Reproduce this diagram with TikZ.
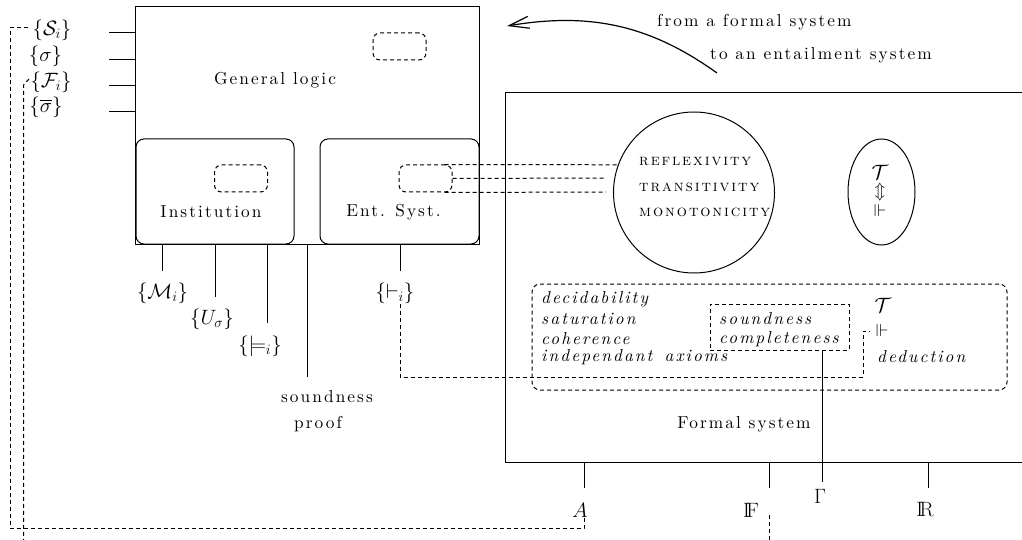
\documentclass[tikz,border=0pt]{standalone}
\usepackage{amsmath,amssymb}
\usepackage{fontspec}
\usetikzlibrary{arrows.meta,shapes.geometric,calc}
% letter-spaced Latin Modern for the running text
\newfontfamily\spaced{lmroman10}[Extension=.otf, UprightFont=*-regular,
  ItalicFont=*-italic, SmallCapsFont=lmromancaps10-regular, LetterSpace=12]
\newcommand{\bbF}{\mathrm{I\!F}}
\newcommand{\bbR}{\mathrm{I\!R}}
\begin{document}
\begin{tikzpicture}[x=1pt,y=-1pt,
  ln/.style={line width=1pt},
  dsh/.style={line width=1pt, dash pattern=on 4pt off 3pt},
  txt/.style={font=\LARGE\spaced, inner sep=0pt},
  itx/.style={font=\LARGE\spaced\itshape, inner sep=0pt, anchor=west},
  scx/.style={font=\fontsize{16}{19}\spaced\scshape, inner sep=0pt, anchor=west},
  mth/.style={font=\huge, inner sep=0pt},
  sym/.style={font=\LARGE, inner sep=0pt},
  box/.style={draw, ln, inner sep=0pt},
  pill/.style={draw, dsh, rounded corners=7pt, minimum width=53pt, minimum height=27pt, inner sep=0pt}]
\useasboundingbox (0,0) rectangle (1022,540);

% ---- general logic and its two parts
\node[box, minimum width=344pt, minimum height=237pt] (gl) at (307,125.5) {};
\node[box, rounded corners=8pt, minimum width=158pt, minimum height=105pt] (inst) at (215,191.5) {};
\node[box, rounded corners=8pt, minimum width=159pt, minimum height=105pt] (ent) at (399.5,191.5) {};
\node[pill] (gld) at (399.5,46.5) {};
\node[pill] (insd) at (241,178.5) {};
\node[pill] (entd) at (425.5,178.5) {};
\node[txt] (gll) at (275,80) {General logic};
\node[txt] (insl) at (211,212) {Institution};
\node[txt] (entl) at (393.5,212) {Ent. Syst.};

% ---- signature labels on the left
\node[mth] (Si) at (52,30) {$\{\mathcal{S}_i\}$};
\node[mth] (sg) at (45.5,56) {$\{\sigma\}$};
\node[mth] (Fi) at (51,82) {$\{\mathcal{F}_i\}$};
\node[mth] (sgb) at (46,107) {$\{\overline{\sigma}\}$};
\foreach \y/\n in {33/a,60/b,86/c,112/d}{
  \coordinate (l\n) at (109,\y);
  \draw[ln] (l\n) -- (gl.west |- l\n);
}

% ---- labels below general logic
\node[mth] (Mi) at (162.5,293) {$\{\mathcal{M}_i\}$};
\node[mth] (Us) at (212,319) {$\{U_\sigma\}$};
\node[mth] (mo) at (260,346) {$\{\models_i\}$};
\node[mth] (vi) at (395,293) {$\{\vdash_i\}$};
\node[txt] (sdn) at (327,397) {soundness};
\node[txt] (prf) at (318,424) {proof};
\coordinate (t1) at (162,271);
\coordinate (t2) at (215,297);
\coordinate (t3) at (267,323);
\coordinate (t4) at (307,377);
\coordinate (t5) at (400,271);
\foreach \t in {t1,t2,t3,t4,t5}{ \draw[ln] (gl.south -| \t) -- (\t); }

% ---- curved arrow and its caption
\coordinate (as) at (717,73);
\coordinate (ae) at (507,26);
\draw[line width=1.2pt, -{Straight Barb[length=20pt,width=12pt]}] (as) .. controls (650,25) and (590,12) .. (ae);
\node[txt, anchor=west] (cap1) at (657,22) {from a formal system};
\node[txt, anchor=west] (cap2) at (710,55) {to an entailment system};

% ---- formal system (open on the right)
\coordinate (fTL) at (505,93);
\coordinate (fBL) at (505,462);
\coordinate (fTR) at (1022,93);
\coordinate (fBR) at (1022,462);
\draw[ln] (fTR) -- (fTL) -- (fBL) -- (fBR);
\node[txt] (fsl) at (744,424) {Formal system};

\node[draw, ln, circle, minimum size=161pt, inner sep=0pt] (circ) at (694,192.5) {};
\node[scx] (rfl) at (639,162) {reflexivity};
\node[scx] (trn) at (639,187) {transitivity};
\node[scx] (mon) at (639,212) {monotonicity};

\node[draw, ln, ellipse, minimum width=67pt, minimum height=106pt, inner sep=0pt] (ell) at (881.5,192) {};
\node[mth] (eT) at (880,172) {$\mathcal{T}$};
\node[sym] (eA) at (880,192) {$\Updownarrow$};
\node[sym] (eV) at (880,211) {$\Vdash$};

% ---- properties
\node[draw, dsh, rounded corners=8pt, minimum width=475pt, minimum height=106pt, inner sep=0pt] (props) at (769.5,337) {};
\node[draw, dsh, minimum width=139pt, minimum height=46pt, inner sep=0pt] (scb) at (779.5,327) {};
\node[itx] (p1) at (541,299) {decidability};
\node[itx] (p2) at (541,319) {saturation};
\node[itx] (p3) at (541,339) {coherence};
\node[itx] (p4) at (541,357) {independant\hspace{4pt} axioms};
\node[itx] (p5) at (719,319) {soundness};
\node[itx] (p6) at (719,339) {completeness};
\node[mth] (dT) at (883,305) {$\mathcal{T}$};
\node[sym] (dV) at (882,331) {$\Vdash$};
\node[itx] (ded) at (877,357) {deduction};

% ---- symbols below the formal system
\node[mth] (A) at (580,510) {$A$};
\node[mth] (F) at (751,510) {$\bbF$};
\node[mth] (G) at (820,496) {$\Gamma$};
\node[mth] (R) at (925,510) {$\bbR$};
\coordinate (bA) at (584,488);
\coordinate (bF) at (769,488);
\coordinate (bR) at (928,488);
\coordinate (bG) at (822,482);
\foreach \b in {bA,bF,bR}{ \draw[ln] (fBL -| \b) -- (\b); }
\draw[ln] (scb.south -| bG) -- (bG);

% ---- dashed links
\coordinate (eo1) at (606,178);
\coordinate (eo2) at (606,192);
\draw[dsh] ([xshift=-8pt]entd.north east) -- (circ.160);
\draw[dsh] (entd.east) -- (eo1);
\draw[dsh] ([xshift=-8pt]entd.south east) -- (eo2);

\coordinate (vc) at (863,377);
\draw[dsh] (vi.south -| t5) |- (vc) |- ([xshift=-6pt]dV.west);

\coordinate (sc) at (10,528);
\coordinate (aA) at (584,517);
\draw[dsh] ([xshift=-4pt]Si.west |- 0,28) -| (sc) -| (aA);
\coordinate (fc) at (23.5,540);
\draw[dsh] (29,79) -- (23.5,85) -- (fc);
\coordinate (Fd) at (769,540);
\draw[dsh] (769,515) -- (Fd);
\end{tikzpicture}
\end{document}
